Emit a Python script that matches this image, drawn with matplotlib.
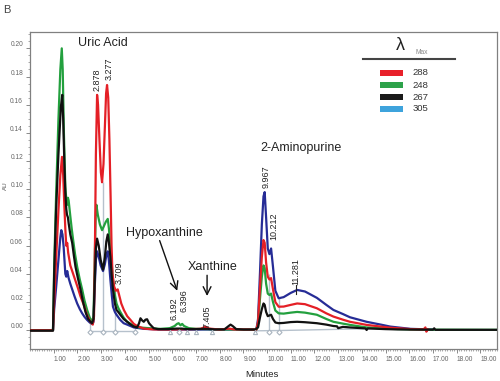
import matplotlib
matplotlib.use("Agg")
import matplotlib.pyplot as plt
from matplotlib.ticker import MultipleLocator
from matplotlib.patches import Rectangle
from matplotlib.lines import Line2D

plt.rcParams['font.family'] = ['Liberation Sans', 'DejaVu Sans']

# ---- chromatogram traces (minutes, AU) ----
black_t = [0, 0.97, 1.02, 1.10, 1.20, 1.30, 1.36, 1.40, 1.45, 1.49, 1.53, 1.56, 1.60, 1.63, 1.70,
           1.78, 1.85, 1.92, 2.02, 2.13, 2.24, 2.34, 2.45, 2.55, 2.62, 2.68, 2.73, 2.78, 2.83, 2.90,
           2.98, 3.08, 3.16, 3.22, 3.28, 3.33, 3.39, 3.45, 3.50, 3.58, 3.65, 3.72, 3.81, 3.95, 4.10,
           4.25, 4.38, 4.52, 4.60, 4.66, 4.73, 4.80, 4.87, 4.94, 5.02, 5.10, 5.22, 5.40, 5.80, 6.0,
           6.2, 6.4, 6.6, 7.0, 7.3, 7.5, 7.8, 8.2, 8.38, 8.46, 8.55, 8.7, 9.0, 9.5, 9.62, 9.70, 9.78,
           9.85, 9.90, 9.96, 10.03, 10.10, 10.17, 10.25, 10.35, 10.49, 10.7, 11.0, 11.27, 11.6, 12.1,
           12.5, 12.8, 12.95, 13.0, 13.2, 13.5, 14.15, 14.2, 14.25, 15.0, 15.5, 16.0, 17.0, 17.05,
           17.1, 18.0, 19.7]
black_v = [-0.0003, -0.0003, 0.040, 0.085, 0.125, 0.158, 0.167, 0.150, 0.118, 0.098, 0.086, 0.082,
           0.080, 0.076, 0.068, 0.062, 0.053, 0.045, 0.037, 0.029, 0.020, 0.013, 0.008, 0.006, 0.005,
           0.008, 0.035, 0.058, 0.065, 0.060, 0.050, 0.043, 0.052, 0.063, 0.068, 0.062, 0.052, 0.038,
           0.029, 0.019, 0.0144, 0.013, 0.011, 0.008, 0.006, 0.004, 0.0026, 0.002, 0.005, 0.0085,
           0.007, 0.006, 0.0075, 0.0078, 0.005, 0.0035, 0.0014, 0.0008, 0.0008, 0.001, 0.0012, 0.0012,
           0.0008, 0.0008, 0.001, 0.001, 0.0006, 0.0006, 0.003, 0.004, 0.003, 0.0008, 0.0005, 0.0005,
           0.002, 0.009, 0.015, 0.019, 0.018, 0.013, 0.010, 0.0105, 0.011, 0.008, 0.0055, 0.005,
           0.0052, 0.0058, 0.006, 0.0057, 0.005, 0.004, 0.003, 0.0028, 0.0015, 0.0024, 0.002, 0.0013,
           0.0002, 0.0013, 0.0008, 0.0006, 0.0005, 0.0004, 0.0014, 0.0003, 0.0003, 0.0003]

green_t = [0, 0.97, 1.02, 1.10, 1.20, 1.28, 1.34, 1.38, 1.43, 1.49, 1.53, 1.57, 1.60, 1.63, 1.70,
           1.76, 1.82, 1.90, 1.99, 2.10, 2.20, 2.30, 2.41, 2.52, 2.62, 2.68, 2.73, 2.77, 2.80, 2.86,
           2.95, 3.04, 3.12, 3.20, 3.28, 3.33, 3.39, 3.45, 3.50, 3.58, 3.65, 3.72, 3.81, 3.95, 4.10,
           4.25, 4.38, 4.6, 5.0, 5.5, 5.9, 6.1, 6.2, 6.27, 6.35, 6.42, 6.5, 6.7, 7.0, 7.5, 8.0, 9.0,
           9.55, 9.62, 9.70, 9.78, 9.85, 9.90, 9.96, 10.03, 10.10, 10.17, 10.25, 10.35, 10.49, 10.7,
           11.0, 11.27, 11.6, 12.1, 12.5, 12.8, 13.2, 13.5, 14.2, 15.2, 16.0, 17.0, 19.7]
green_v = [0, 0, 0.045, 0.095, 0.150, 0.185, 0.200, 0.185, 0.140, 0.102, 0.093, 0.089, 0.094, 0.092,
           0.081, 0.072, 0.064, 0.054, 0.045, 0.036, 0.029, 0.021, 0.0144, 0.009, 0.006, 0.010, 0.050,
           0.080, 0.089, 0.082, 0.075, 0.071, 0.074, 0.077, 0.079, 0.072, 0.059, 0.046, 0.036, 0.025,
           0.019, 0.016, 0.013, 0.009, 0.006, 0.0045, 0.003, 0.002, 0.0015, 0.001, 0.0015, 0.003,
           0.0045, 0.005, 0.0035, 0.0045, 0.003, 0.0015, 0.001, 0.0008, 0.0006, 0.0005, 0.0005, 0.005,
           0.022, 0.038, 0.046, 0.044, 0.033, 0.026, 0.025, 0.026, 0.020, 0.014, 0.012, 0.0118, 0.0125,
           0.013, 0.0125, 0.011, 0.008, 0.006, 0.0047, 0.0038, 0.002, 0.001, 0.0006, 0.0004, 0.0003]

red_t = [0, 0.97, 1.02, 1.10, 1.20, 1.28, 1.35, 1.40, 1.45, 1.49, 1.53, 1.57, 1.61, 1.70, 1.80,
         1.92, 2.02, 2.13, 2.27, 2.40, 2.55, 2.65, 2.70, 2.74, 2.78, 2.83, 2.87, 2.93, 2.99, 3.04,
         3.10, 3.16, 3.21, 3.25, 3.30, 3.35, 3.40, 3.44, 3.48, 3.55, 3.62, 3.70, 3.76, 3.85, 3.96,
         4.10, 4.24, 4.38, 4.52, 4.8, 5.2, 6.0, 7.2, 7.4, 7.55, 8.0, 8.4, 8.6, 9.55, 9.62, 9.70,
         9.78, 9.85, 9.90, 9.96, 10.03, 10.10, 10.17, 10.25, 10.35, 10.49, 10.7, 11.0, 11.27, 11.6,
         12.1, 12.5, 12.8, 13.2, 13.5, 14.2, 15.2, 16.05, 16.6, 16.68, 16.72, 16.78]
red_v = [0, 0, 0.020, 0.050, 0.085, 0.110, 0.123, 0.110, 0.088, 0.072, 0.060, 0.062, 0.055, 0.046,
         0.041, 0.035, 0.030, 0.024, 0.018, 0.011, 0.006, 0.004, 0.010, 0.060, 0.125, 0.167, 0.160,
         0.135, 0.112, 0.105, 0.118, 0.145, 0.168, 0.174, 0.165, 0.135, 0.095, 0.060, 0.040, 0.031,
         0.028, 0.029, 0.025, 0.019, 0.0144, 0.010, 0.0073, 0.0045, 0.003, 0.0012, 0.0006, 0.0005,
         0.001, 0.0025, 0.0012, 0.0005, 0.0012, 0.0006, 0.0005, 0.006, 0.030, 0.052, 0.064, 0.062,
         0.048, 0.038, 0.036, 0.037, 0.029, 0.020, 0.0167, 0.0168, 0.018, 0.019, 0.0185, 0.0156,
         0.012, 0.0097, 0.0075, 0.006, 0.0038, 0.0018, 0.0008, 0.0006, 0.002, -0.001, 0.0006]

blue_t = [0, 0.97, 1.02, 1.10, 1.20, 1.28, 1.32, 1.37, 1.42, 1.49, 1.53, 1.57, 1.63, 1.70, 1.78,
          1.88, 1.99, 2.10, 2.20, 2.30, 2.41, 2.52, 2.62, 2.68, 2.73, 2.78, 2.83, 2.90, 2.98, 3.08,
          3.16, 3.22, 3.28, 3.33, 3.39, 3.45, 3.50, 3.58, 3.65, 3.81, 3.95, 4.10, 4.38, 4.8, 5.5,
          9.55, 9.62, 9.70, 9.78, 9.85, 9.90, 9.96, 10.03, 10.10, 10.17, 10.25, 10.35, 10.49, 10.7,
          11.0, 11.27, 11.6, 12.1, 12.5, 12.8, 13.2, 13.5, 14.2, 14.8, 15.2, 16.05, 17.0]
blue_v = [0, 0, 0.015, 0.030, 0.050, 0.066, 0.071, 0.068, 0.059, 0.040, 0.038, 0.042, 0.037, 0.033,
          0.029, 0.024, 0.019, 0.015, 0.012, 0.0095, 0.0073, 0.0055, 0.0045, 0.006, 0.030, 0.050,
          0.056, 0.052, 0.046, 0.042, 0.047, 0.053, 0.056, 0.049, 0.036, 0.025, 0.0167, 0.013, 0.011,
          0.0073, 0.005, 0.004, 0.002, 0.001, 0.0005, 0.0005, 0.008, 0.040, 0.075, 0.095, 0.098, 0.080,
          0.058, 0.054, 0.058, 0.045, 0.028, 0.0227, 0.0235, 0.0265, 0.0286, 0.0275, 0.023, 0.018,
          0.0144, 0.0115, 0.0092, 0.006, 0.004, 0.0026, 0.001, 0.0005]

# integration drop lines and baseline markers
drop_t = [2.55, 3.06, 3.60, 4.45, 10.07, 10.49]
drop_top = [0.006, 0.105, 0.029, 0.004, 0.040, 0.023]
diamond_t = [2.55, 3.06, 3.60, 4.45, 6.27, 10.07, 10.49]
triangle_t = [5.90, 6.63, 7.02, 7.68, 9.51]

# peak labels (retention times)
peak_names = ["2.878", "3.277", "3.709", "6.192", "6.396", "7.405", "9.967", "10.212", "11.281"]
peak_t = [2.83, 3.32, 3.76, 6.07, 6.49, 7.47, 9.96, 10.28, 11.20]
peak_v = [0.170, 0.1775, 0.033, 0.0073, 0.013, 0.0016, 0.1007, 0.064, 0.032]

legend_labels = ["288", "248", "267", "305"]
legend_colors = ["#e8202a", "#2ca24a", "#1a1a1a", "#3ea3dc"]

RED, GREEN, BLACK, NAVY = "#e41f26", "#23a03e", "#111111", "#262c96"
GRID = "#b6c1cc"

fig = plt.figure(figsize=(5.0, 3.81), dpi=100)
ax = fig.add_axes([30 / 500, 32 / 381, 467 / 500, 317 / 381])

# baseline segments of the integration
ax.plot([2.55, 4.45], [-0.0004, -0.0004], color=GRID, lw=1.0, zorder=1)
ax.plot([9.51, 10.49, 15.5], [-0.0004, -0.0002, 0.0015], color=GRID, lw=1.0, zorder=1)
ax.vlines(drop_t, 0, drop_top, color=GRID, lw=1.0, zorder=1)

ax.plot(blue_t, blue_v, color=NAVY, lw=1.6, zorder=2)
ax.plot(green_t, green_v, color=GREEN, lw=1.6, zorder=3)
ax.plot(red_t, red_v, color=RED, lw=1.6, zorder=4)
ax.plot(black_t, black_v, color=BLACK, lw=1.6, zorder=5)

ax.plot(diamond_t, [-0.0015] * len(diamond_t), ls="none", marker="D", ms=2.6, mfc="white",
        mec="#a9b4bf", mew=0.8, zorder=6)
ax.plot(triangle_t, [-0.0015] * len(triangle_t), ls="none", marker="^", ms=3, mfc="white",
        mec="#a9b4bf", mew=0.8, zorder=6)

for name, t, v in zip(peak_names, peak_t, peak_v):
    ax.text(t, v, name, rotation=90, ha="center", va="bottom", fontsize=6.5, color="#222222",
            zorder=7)
ax.plot([11.20, 11.20], [0.0255, 0.032], color="#222222", lw=0.8, zorder=7)

# compound names
ax.text(2.03, 0.2035, "Uric Acid", fontsize=9, color="#222222", va="center")
ax.text(9.72, 0.129, "2-Aminopurine", fontsize=9, color="#222222", va="center")
ax.text(4.03, 0.0692, "Hypoxanthine", fontsize=9, color="#222222", va="center")
ax.text(6.67, 0.045, "Xanthine", fontsize=9, color="#222222", va="center")
ax.annotate("", xy=(6.21, 0.028), xytext=(5.47, 0.0636),
            arrowprops=dict(arrowstyle="->", lw=1.0, color="#111111", mutation_scale=14,
                            shrinkA=0, shrinkB=0))
ax.annotate("", xy=(7.47, 0.0243), xytext=(7.47, 0.039),
            arrowprops=dict(arrowstyle="->", lw=1.0, color="#111111", mutation_scale=14,
                            shrinkA=0, shrinkB=0))

ax.set_xlim(0, 19.7)
ax.set_ylim(-0.0133, 0.2116)

xt = list(range(1, 20))
ax.set_xticks(xt)
ax.set_xticklabels([f"{t:.2f}" for t in xt], ha="left")
ax.xaxis.set_minor_locator(MultipleLocator(0.1))
yt = [i * 0.02 for i in range(11)]
ax.set_yticks(yt)
ax.set_yticklabels([f"{v:.2f}" for v in yt], va="bottom")
ax.yaxis.set_minor_locator(MultipleLocator(0.005))
ax.tick_params(which="major", direction="out", length=3, width=0.6, color="#777777",
               labelsize=4.8, labelcolor="#666666", pad=2)
ax.tick_params(which="minor", direction="out", length=1.5, width=0.5, color="#888888")
for s in ax.spines.values():
    s.set_color("#808080")
    s.set_linewidth(0.9)

fig.text(261.7 / 500, 1 - 374.3 / 381, "Minutes", fontsize=6.8, color="#222222",
         ha="center", va="center")
fig.text(5 / 500, 1 - 186 / 381, "AU", fontsize=4.5, color="#555555", rotation=90,
         ha="center", va="center")
fig.text(7 / 500, 1 - 10 / 381, "B", fontsize=8, color="#444444", ha="center", va="center")

# legend block (lambda max)
fig.text(400 / 500, 1 - 46 / 381, "\u03bb", fontsize=13, color="#222222", ha="center",
         va="center")
fig.text(416 / 500, 1 - 52.3 / 381, "Max", fontsize=4.8, color="#888888", ha="left",
         va="center")
fig.add_artist(Line2D([363 / 500, 455 / 500], [1 - 59 / 381, 1 - 59 / 381], color="#444444",
                      lw=1.5))
for i, (lab, col) in enumerate(zip(legend_labels, legend_colors)):
    yc = [72.7, 85.0, 97.3, 108.7][i]
    fig.add_artist(Rectangle((380 / 500, 1 - (yc + 3) / 381), 22.7 / 500, 6 / 381,
                             facecolor=col, edgecolor="none"))
    fig.text(412.7 / 500, 1 - yc / 381, lab, fontsize=6.8, color="#333333", ha="left",
             va="center")

fig.savefig("out.png", dpi=100)
